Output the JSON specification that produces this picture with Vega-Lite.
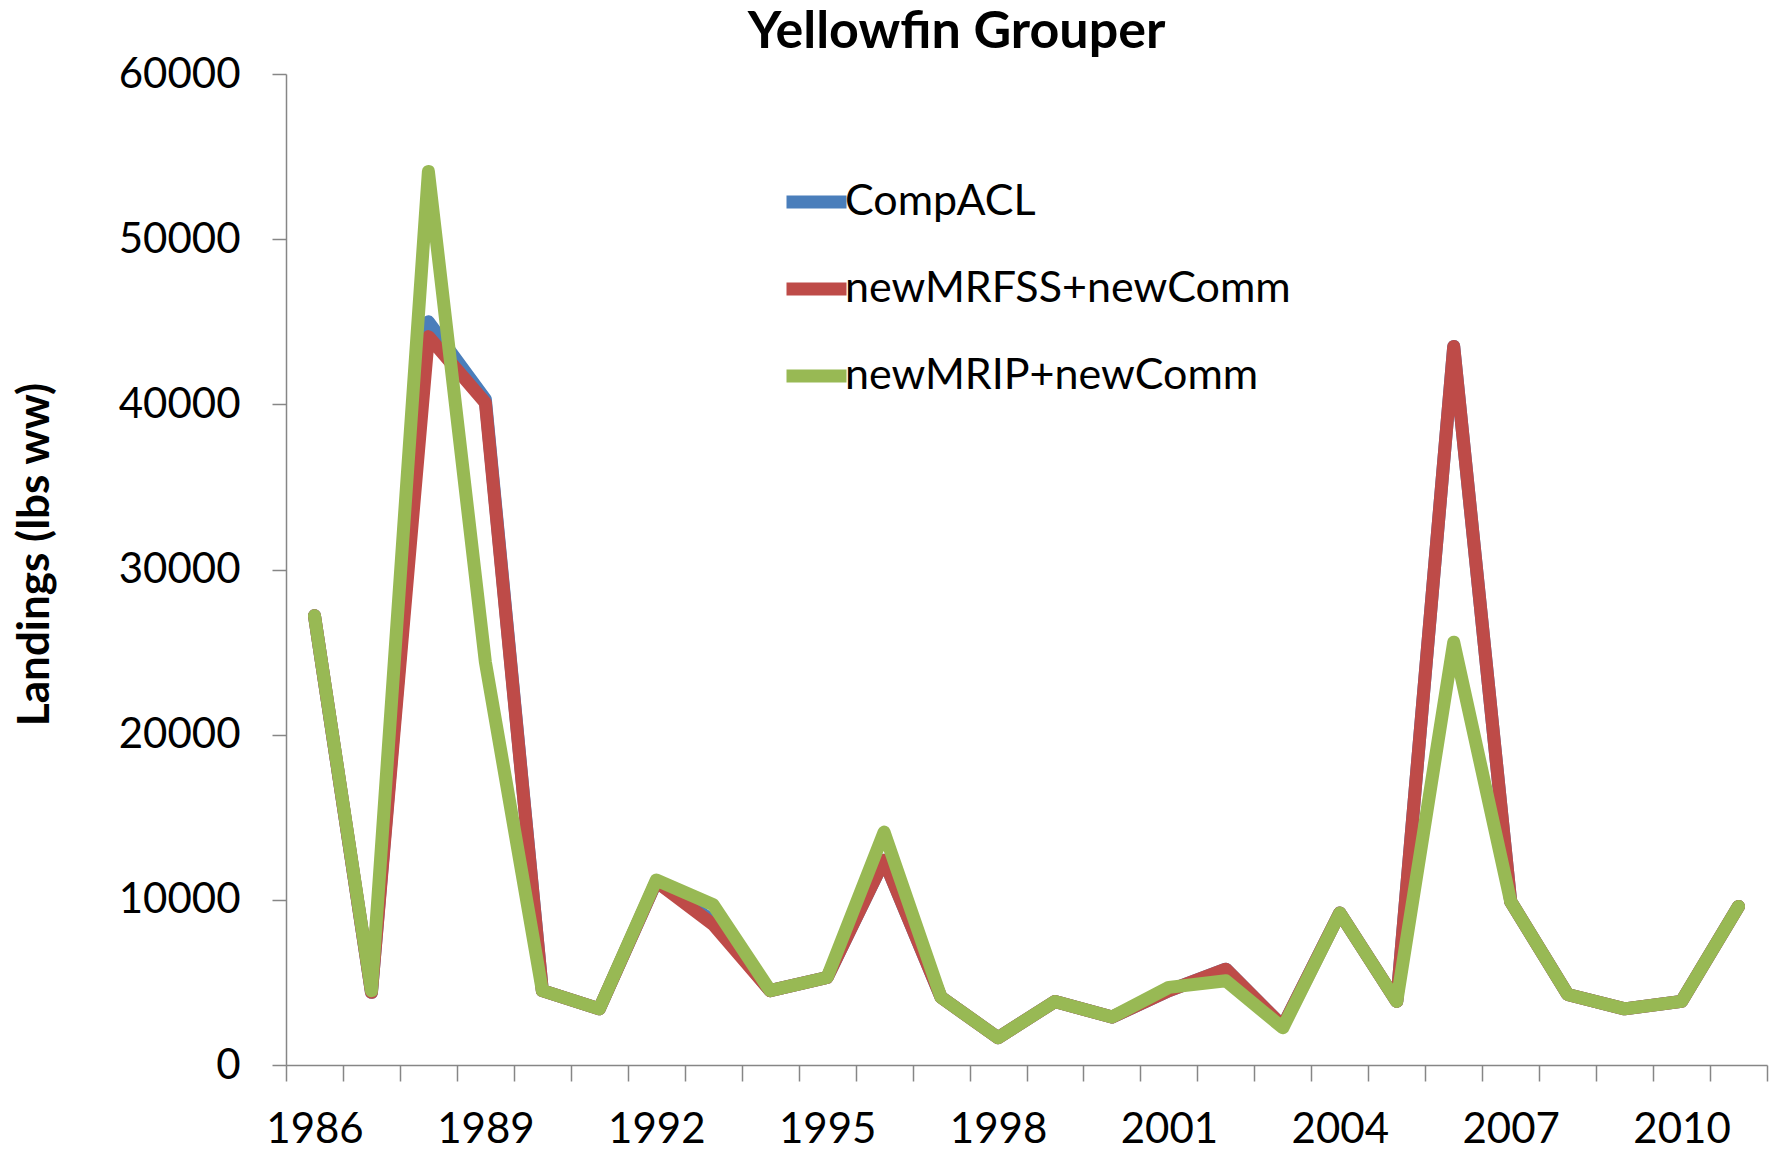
{
  "$schema": "https://vega.github.io/schema/vega-lite/v6.json",
  "width": 1481,
  "height": 991,
  "autosize": "none",
  "padding": {"left": 286, "top": 74, "right": 14, "bottom": 85},
  "background": "white",
  "title": {"text": "Yellowfin Grouper", "font": "Lato", "fontSize": 52, "fontWeight": "bold", "color": "black", "anchor": "middle", "dx": -70, "dy": 74, "offset": 27, "baseline": "alphabetic"},
  "data": {"values": [
    {"year": 1986, "series": "CompACL", "landings": 27200},
    {"year": 1987, "series": "CompACL", "landings": 4400},
    {"year": 1988, "series": "CompACL", "landings": 45000},
    {"year": 1989, "series": "CompACL", "landings": 40300},
    {"year": 1990, "series": "CompACL", "landings": 4500},
    {"year": 1991, "series": "CompACL", "landings": 3400},
    {"year": 1992, "series": "CompACL", "landings": 11100},
    {"year": 1993, "series": "CompACL", "landings": 8700},
    {"year": 1994, "series": "CompACL", "landings": 4500},
    {"year": 1995, "series": "CompACL", "landings": 5300},
    {"year": 1996, "series": "CompACL", "landings": 12400},
    {"year": 1997, "series": "CompACL", "landings": 4100},
    {"year": 1998, "series": "CompACL", "landings": 1650},
    {"year": 1999, "series": "CompACL", "landings": 3850},
    {"year": 2000, "series": "CompACL", "landings": 2900},
    {"year": 2001, "series": "CompACL", "landings": 4500},
    {"year": 2002, "series": "CompACL", "landings": 5800},
    {"year": 2003, "series": "CompACL", "landings": 2350},
    {"year": 2004, "series": "CompACL", "landings": 9200},
    {"year": 2005, "series": "CompACL", "landings": 3850},
    {"year": 2006, "series": "CompACL", "landings": 43500},
    {"year": 2007, "series": "CompACL", "landings": 9900},
    {"year": 2008, "series": "CompACL", "landings": 4270},
    {"year": 2009, "series": "CompACL", "landings": 3400},
    {"year": 2010, "series": "CompACL", "landings": 3850},
    {"year": 2011, "series": "CompACL", "landings": 9600},
    {"year": 1986, "series": "newMRFSS+newComm", "landings": 27200},
    {"year": 1987, "series": "newMRFSS+newComm", "landings": 4400},
    {"year": 1988, "series": "newMRFSS+newComm", "landings": 44100},
    {"year": 1989, "series": "newMRFSS+newComm", "landings": 40100},
    {"year": 1990, "series": "newMRFSS+newComm", "landings": 4500},
    {"year": 1991, "series": "newMRFSS+newComm", "landings": 3400},
    {"year": 1992, "series": "newMRFSS+newComm", "landings": 11100},
    {"year": 1993, "series": "newMRFSS+newComm", "landings": 8500},
    {"year": 1994, "series": "newMRFSS+newComm", "landings": 4500},
    {"year": 1995, "series": "newMRFSS+newComm", "landings": 5300},
    {"year": 1996, "series": "newMRFSS+newComm", "landings": 12400},
    {"year": 1997, "series": "newMRFSS+newComm", "landings": 4100},
    {"year": 1998, "series": "newMRFSS+newComm", "landings": 1650},
    {"year": 1999, "series": "newMRFSS+newComm", "landings": 3850},
    {"year": 2000, "series": "newMRFSS+newComm", "landings": 2900},
    {"year": 2001, "series": "newMRFSS+newComm", "landings": 4500},
    {"year": 2002, "series": "newMRFSS+newComm", "landings": 5800},
    {"year": 2003, "series": "newMRFSS+newComm", "landings": 2350},
    {"year": 2004, "series": "newMRFSS+newComm", "landings": 9200},
    {"year": 2005, "series": "newMRFSS+newComm", "landings": 3850},
    {"year": 2006, "series": "newMRFSS+newComm", "landings": 43500},
    {"year": 2007, "series": "newMRFSS+newComm", "landings": 9900},
    {"year": 2008, "series": "newMRFSS+newComm", "landings": 4270},
    {"year": 2009, "series": "newMRFSS+newComm", "landings": 3400},
    {"year": 2010, "series": "newMRFSS+newComm", "landings": 3850},
    {"year": 2011, "series": "newMRFSS+newComm", "landings": 9600},
    {"year": 1986, "series": "newMRIP+newComm", "landings": 27200},
    {"year": 1987, "series": "newMRIP+newComm", "landings": 4500},
    {"year": 1988, "series": "newMRIP+newComm", "landings": 54100},
    {"year": 1989, "series": "newMRIP+newComm", "landings": 24400},
    {"year": 1990, "series": "newMRIP+newComm", "landings": 4500},
    {"year": 1991, "series": "newMRIP+newComm", "landings": 3400},
    {"year": 1992, "series": "newMRIP+newComm", "landings": 11200},
    {"year": 1993, "series": "newMRIP+newComm", "landings": 9700},
    {"year": 1994, "series": "newMRIP+newComm", "landings": 4500},
    {"year": 1995, "series": "newMRIP+newComm", "landings": 5300},
    {"year": 1996, "series": "newMRIP+newComm", "landings": 14100},
    {"year": 1997, "series": "newMRIP+newComm", "landings": 4100},
    {"year": 1998, "series": "newMRIP+newComm", "landings": 1650},
    {"year": 1999, "series": "newMRIP+newComm", "landings": 3850},
    {"year": 2000, "series": "newMRIP+newComm", "landings": 2900},
    {"year": 2001, "series": "newMRIP+newComm", "landings": 4700},
    {"year": 2002, "series": "newMRIP+newComm", "landings": 5100},
    {"year": 2003, "series": "newMRIP+newComm", "landings": 2250},
    {"year": 2004, "series": "newMRIP+newComm", "landings": 9200},
    {"year": 2005, "series": "newMRIP+newComm", "landings": 3850},
    {"year": 2006, "series": "newMRIP+newComm", "landings": 25600},
    {"year": 2007, "series": "newMRIP+newComm", "landings": 9900},
    {"year": 2008, "series": "newMRIP+newComm", "landings": 4270},
    {"year": 2009, "series": "newMRIP+newComm", "landings": 3400},
    {"year": 2010, "series": "newMRIP+newComm", "landings": 3850},
    {"year": 2011, "series": "newMRIP+newComm", "landings": 9600}
  ]},
  "mark": {"type": "line", "strokeWidth": 13, "strokeCap": "round", "strokeJoin": "round"},
  "encoding": {
    "x": {
      "field": "year", "type": "quantitative",
      "scale": {"domain": [1985.5, 2011.5], "nice": false, "zero": false},
      "axis": {
        "values": [1985.5, 1986.5, 1987.5, 1988.5, 1989.5, 1990.5, 1991.5, 1992.5, 1993.5, 1994.5, 1995.5, 1996.5, 1997.5, 1998.5, 1999.5, 2000.5, 2001.5, 2002.5, 2003.5, 2004.5, 2005.5, 2006.5, 2007.5, 2008.5, 2009.5, 2010.5, 2011.5],
        "labelExpr": "((datum.value + 0.5 - 1986) % 3 == 0 && datum.value < 2011) ? '' + (datum.value + 0.5) : ''",
        "labelOffset": 28.5,
        "labelFlush": false,
        "labelOverlap": false,
        "labelBound": false,
        "grid": false,
        "title": null,
        "tickSize": 16,
        "tickWidth": 1.5,
        "tickColor": "#868686",
        "domainColor": "#868686",
        "domainWidth": 1.5,
        "labelPadding": 61,
        "labelBaseline": "alphabetic",
        "labelFont": "Lato",
        "labelFontSize": 42,
        "labelColor": "black"
      }
    },
    "y": {
      "field": "landings", "type": "quantitative",
      "scale": {"domain": [0, 60000], "nice": false},
      "axis": {
        "values": [0, 10000, 20000, 30000, 40000, 50000, 60000],
        "format": "d",
        "grid": false,
        "tickSize": 14,
        "tickWidth": 1.5,
        "tickColor": "#868686",
        "domainColor": "#868686",
        "domainWidth": 1.5,
        "labelPadding": 32,
        "labelFont": "Lato",
        "labelFontSize": 42,
        "labelColor": "black",
        "title": "Landings (lbs ww)",
        "titleFont": "Lato",
        "titleFontSize": 44,
        "titleFontWeight": "bold",
        "titleColor": "black",
        "titleX": -238,
        "titleY": 480,
        "titleAngle": -90,
        "titleAlign": "center",
        "titleBaseline": "alphabetic"
      }
    },
    "color": {
      "field": "series", "type": "nominal",
      "scale": {"domain": ["CompACL", "newMRFSS+newComm", "newMRIP+newComm"], "range": ["#4A7EBB", "#BE4B48", "#98B954"]},
      "legend": {
        "title": null,
        "orient": "none",
        "legendX": 494,
        "legendY": 91.5,
        "padding": 0,
        "symbolType": "stroke",
        "symbolSize": 3600,
        "symbolStrokeWidth": 13,
        "labelFont": "Lato",
        "labelFontSize": 43,
        "labelColor": "black",
        "labelOffset": -8,
        "rowPadding": 24,
        "labelLimit": 600
      }
    }
  },
  "config": {"view": {"stroke": null}}
}
